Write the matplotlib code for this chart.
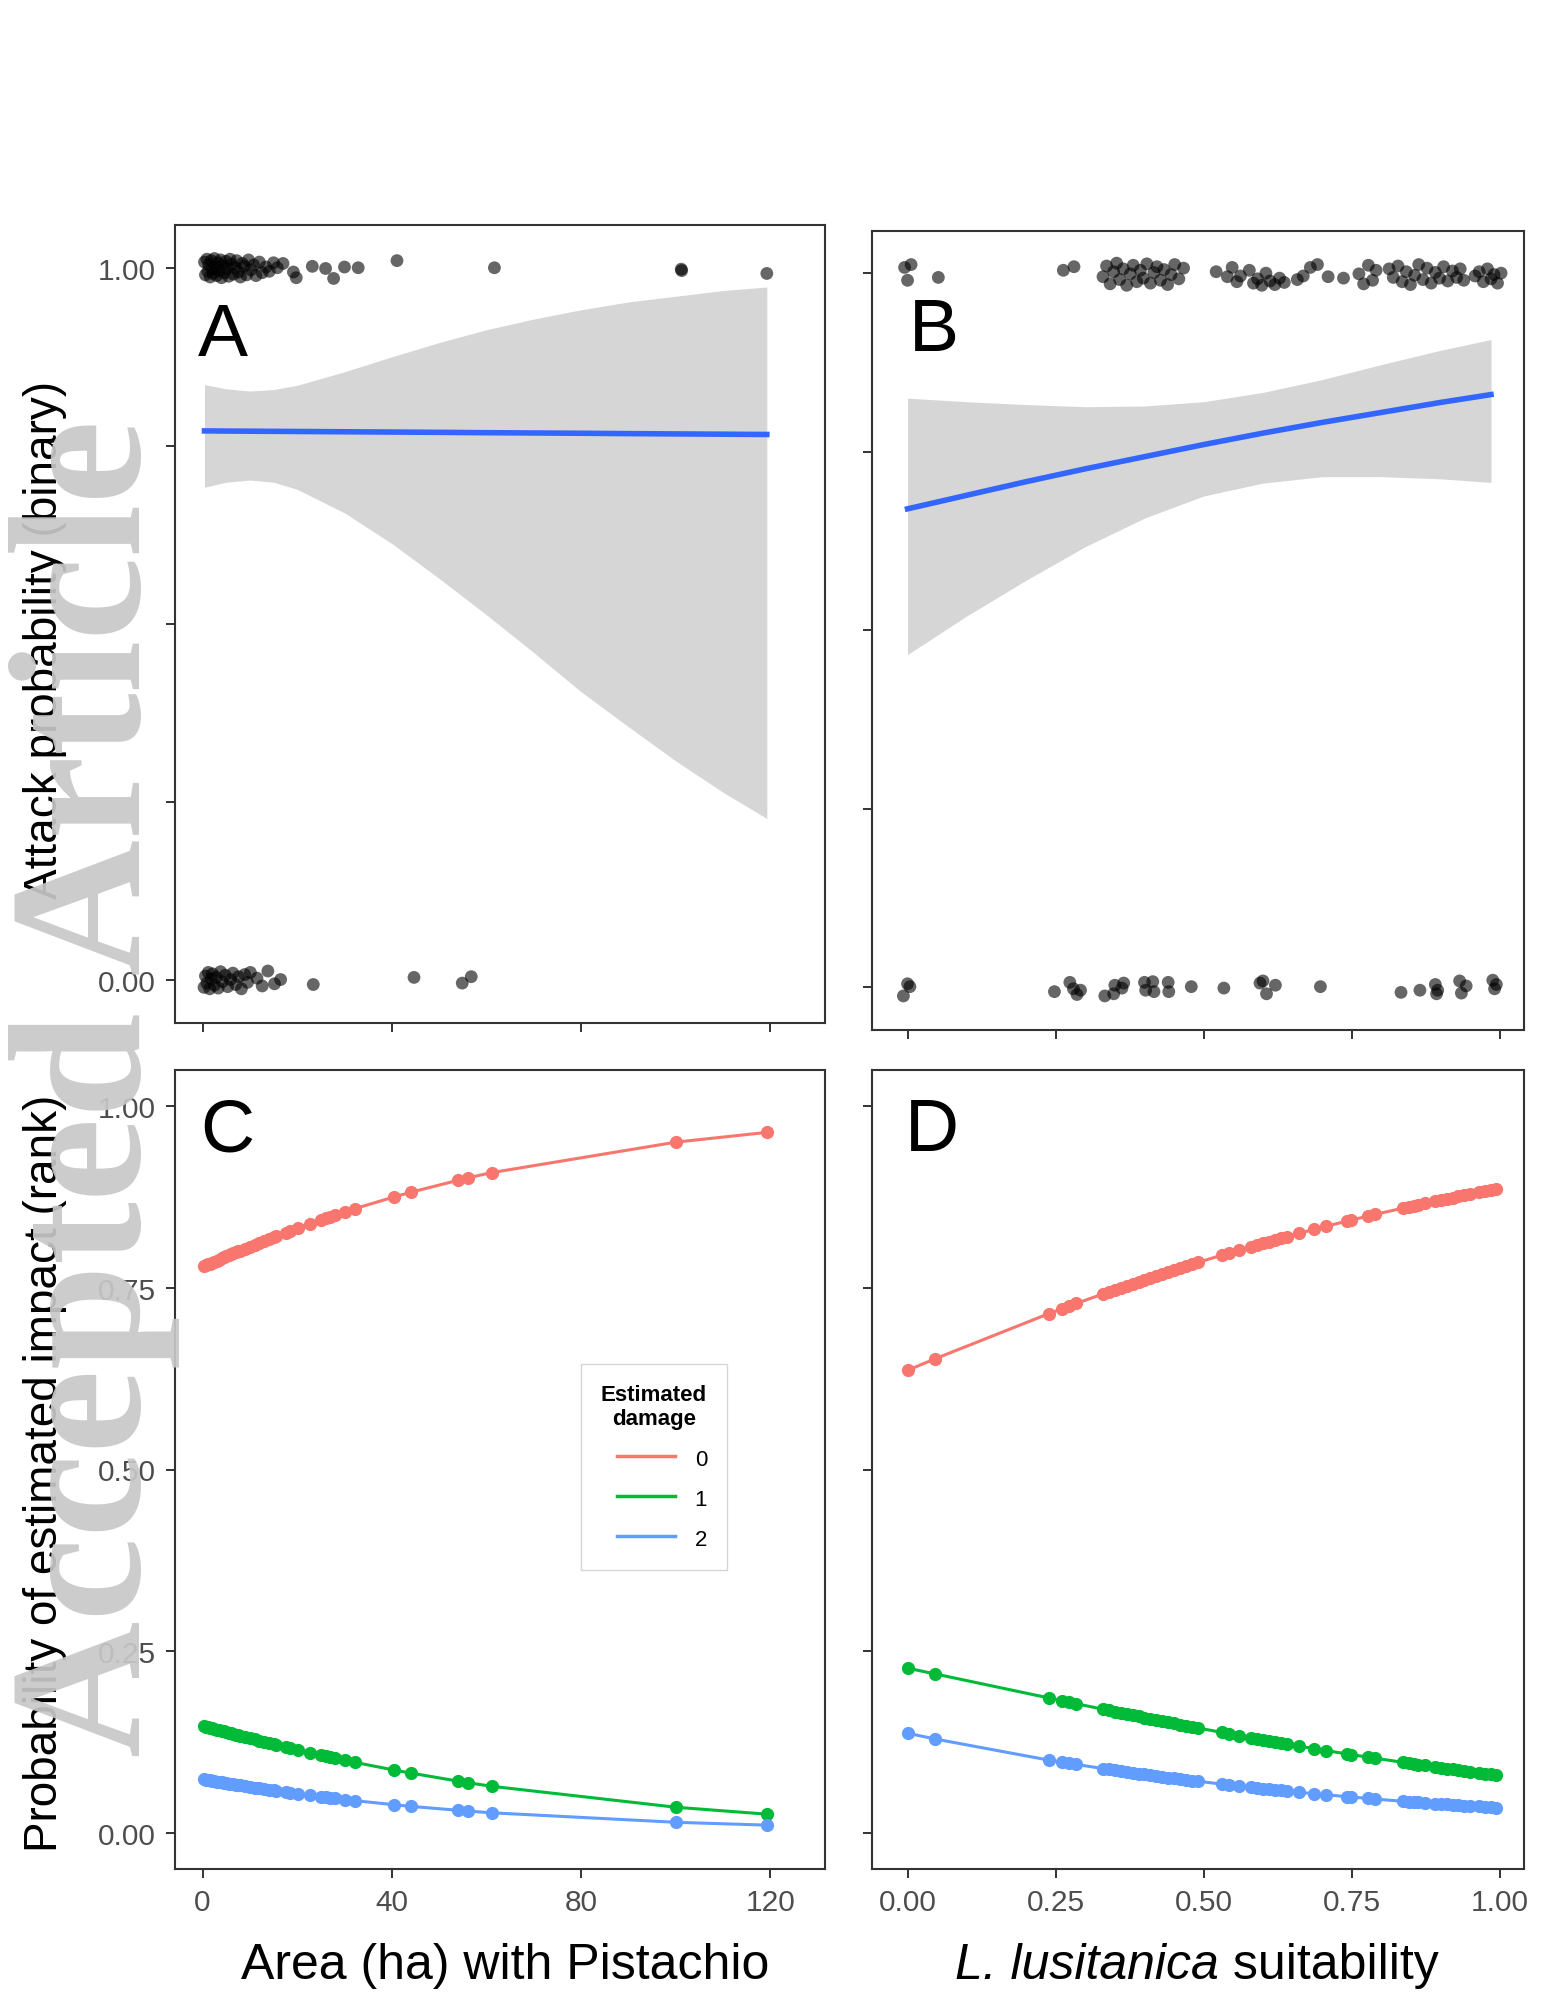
import matplotlib
matplotlib.use("Agg")
import matplotlib.pyplot as plt
from matplotlib.lines import Line2D

plt.rcParams['font.family'] = ['Liberation Sans', 'DejaVu Sans']

# ---------------- Panel A: attack vs area (binary, glm smooth) ----------------
A_top_x = [0.4, 0.6, 0.9, 1.1, 1.3, 1.6, 1.8, 2.0, 2.2, 2.5,
           2.7, 3.0, 3.2, 3.5, 3.8, 4.0, 4.3, 4.6, 4.9, 5.2,
           5.5, 5.8, 6.1, 6.5, 6.9, 7.2, 7.6, 8.0, 8.4, 8.8,
           9.3, 9.7, 10.2, 10.8, 11.3, 12.0, 12.6, 13.4, 14.1, 15.0,
           15.8, 17.0, 19.2, 19.8, 23.2, 26.0, 27.7, 30.0, 32.9, 41.1,
           61.7, 101.2, 101.3, 119.3]
A_top_y = [1.008, 0.990, 1.012, 0.995, 1.004, 0.987, 1.010, 0.998, 0.992, 1.013,
           1.001, 0.989, 1.007, 0.996, 1.011, 0.986, 1.003, 0.993, 1.009, 0.999,
           0.988, 1.012, 1.005, 0.991, 1.000, 1.010, 0.994, 0.987, 1.006, 1.002,
           0.990, 1.011, 0.997, 1.004, 0.989, 1.008, 0.993, 1.001, 0.995, 1.007,
           1.000, 1.006, 0.994, 0.986, 1.002, 0.999, 0.985, 1.001, 1.000, 1.010,
           1.000, 0.998, 0.996, 0.992]
A_bot_x = [0.3, 0.6, 0.9, 1.2, 1.5, 1.8, 2.1, 2.5, 2.9, 3.3,
           3.8, 4.2, 4.8, 5.3, 5.9, 6.4, 7.0, 7.6, 8.2, 8.9,
           9.5, 10.1, 11.5, 12.6, 13.8, 15.2, 16.5, 23.4, 44.7, 54.9,
           56.8]
A_bot_y = [-0.010, 0.006, -0.004, 0.011, -0.012, 0.002, 0.009, -0.007, 0.004, -0.011,
           0.012, -0.002, 0.007, -0.009, 0.001, 0.010, -0.006, 0.005, -0.012, 0.008,
           -0.003, 0.011, 0.003, -0.008, 0.013, -0.005, 0.001, -0.006, 0.004, -0.004,
           0.005]
A_grid = [0.4, 5, 10, 15, 20, 30, 40, 50, 60, 70, 80, 90, 100, 110, 119.3]
A_fit = [0.771, 0.7708, 0.7706, 0.7704, 0.7702, 0.7698, 0.7694, 0.769, 0.7685,
         0.7681, 0.7677, 0.7672, 0.7668, 0.7664, 0.766]
A_hi = [0.836, 0.830, 0.827, 0.829, 0.835, 0.854, 0.875, 0.895, 0.913,
        0.928, 0.941, 0.952, 0.960, 0.968, 0.973]
A_lo = [0.692, 0.699, 0.702, 0.699, 0.689, 0.656, 0.613, 0.564, 0.513,
        0.460, 0.405, 0.356, 0.308, 0.264, 0.227]

# ---------------- Panel B: attack vs suitability ----------------
B_top_x = [-0.005, 0.000, 0.006, 0.052, 0.263, 0.281,
           0.330, 0.336, 0.342, 0.348, 0.353, 0.358, 0.364, 0.370, 0.376, 0.381,
           0.387, 0.393, 0.398, 0.404, 0.410, 0.416, 0.421, 0.427, 0.433, 0.439,
           0.445, 0.451, 0.458, 0.466,
           0.521, 0.540, 0.548, 0.556, 0.562, 0.577, 0.584, 0.591, 0.598, 0.605,
           0.612, 0.620, 0.628, 0.636,
           0.658, 0.668, 0.680, 0.692, 0.710, 0.736, 0.762, 0.770, 0.778, 0.785, 0.791,
           0.813, 0.820, 0.828, 0.835, 0.842, 0.849, 0.856, 0.863, 0.870, 0.877,
           0.884, 0.891, 0.898, 0.905, 0.912, 0.920, 0.927, 0.933, 0.939,
           0.958, 0.965, 0.972, 0.979, 0.985, 0.990, 0.996, 1.002]
B_top_y = [1.008, 0.990, 1.012, 0.994, 1.004, 1.009,
           0.995, 1.010, 0.985, 1.002, 1.014, 0.991, 1.006, 0.983, 0.999, 1.011,
           0.988, 1.004, 0.993, 1.013, 0.986, 1.001, 1.009, 0.990, 1.005, 0.984,
           0.998, 1.012, 0.992, 1.007,
           1.002, 0.995, 1.008, 0.988, 0.996, 1.004, 0.986, 0.992, 0.983, 1.000,
           0.989, 0.984, 0.993, 0.987,
           0.991, 0.996, 1.008, 1.012, 0.995, 0.993, 0.999, 0.985, 1.011, 0.990, 1.004,
           1.006, 0.994, 1.010, 0.988, 1.002, 0.984, 0.997, 1.012, 0.991, 1.007,
           0.986, 1.001, 0.993, 1.009, 0.989, 1.003, 0.994, 1.006, 0.990,
           0.996, 1.002, 0.988, 1.006, 0.992, 0.998, 0.986, 1.000]
B_bot_x = [-0.007, 0.000, 0.004, 0.248, 0.274, 0.280, 0.286, 0.292, 0.333, 0.348,
           0.350, 0.362, 0.365, 0.400, 0.402, 0.414, 0.416, 0.440, 0.441, 0.479,
           0.534, 0.595, 0.600, 0.606, 0.621, 0.697, 0.833, 0.865, 0.891, 0.893,
           0.895, 0.932, 0.935, 0.943, 0.988, 0.991, 0.994]
B_bot_y = [-0.012, 0.005, 0.001, -0.006, 0.007, -0.002, -0.010, -0.004, -0.012, -0.009,
           0.003, -0.001, 0.006, 0.007, -0.004, 0.008, -0.006, 0.007, -0.006, 0.001,
           -0.001, 0.006, 0.009, -0.009, 0.003, 0.001, -0.007, -0.004, 0.004, -0.009,
           -0.004, 0.009, -0.008, 0.002, 0.010, -0.002, 0.004]
B_grid = [0.0, 0.1, 0.2, 0.3, 0.4, 0.5, 0.6, 0.7, 0.8, 0.9, 0.985]
B_fit = [0.670, 0.689, 0.708, 0.726, 0.743, 0.760, 0.776, 0.791, 0.805, 0.819, 0.830]
B_hi = [0.825, 0.820, 0.816, 0.813, 0.814, 0.820, 0.833, 0.851, 0.872, 0.892, 0.907]
B_lo = [0.466, 0.520, 0.570, 0.617, 0.657, 0.688, 0.706, 0.715, 0.715, 0.712, 0.707]

# ---------------- Panel C: ordinal model vs area ----------------
C_x = [0.4, 0.8, 1.2, 1.6, 2.0, 2.5, 3.0, 3.5, 4.0, 4.5, 5.0, 5.5, 6.0, 6.5,
       7.0, 7.5, 8.0, 9.0, 10.0, 11.0, 12.0, 13.0, 14.0, 15.0, 15.5,
       17.6, 18.5, 20.2, 22.8, 25.0, 26.0, 27.0, 28.0, 30.1, 32.3,
       40.5, 44.1, 53.9, 56.1, 61.1, 100.1, 119.3]
C_p0 = [0.7802, 0.7813, 0.7825, 0.7836, 0.7848, 0.7862, 0.7876, 0.7891, 0.7905, 0.7919,
        0.7933, 0.7947, 0.7961, 0.7975, 0.7989, 0.8002, 0.8015, 0.8042, 0.8069, 0.8095,
        0.8121, 0.8147, 0.8173, 0.8198, 0.8210, 0.8262, 0.8284, 0.8325, 0.8385, 0.8436,
        0.8458, 0.8480, 0.8502, 0.8547, 0.8593, 0.8753, 0.8818, 0.8980, 0.9015, 0.9087,
        0.9507, 0.9641]
C_p1 = [0.1465, 0.1458, 0.1451, 0.1444, 0.1437, 0.1428, 0.1420, 0.1411, 0.1403, 0.1394,
        0.1385, 0.1376, 0.1368, 0.1359, 0.1351, 0.1343, 0.1335, 0.1318, 0.1301, 0.1285,
        0.1269, 0.1252, 0.1236, 0.1221, 0.1213, 0.1180, 0.1166, 0.1140, 0.1102, 0.1069,
        0.1055, 0.1041, 0.1026, 0.0998, 0.0967, 0.0862, 0.0820, 0.0711, 0.0688, 0.0639,
        0.0350, 0.0255]
C_p2 = [0.0733, 0.0729, 0.0724, 0.0720, 0.0715, 0.0710, 0.0704, 0.0698, 0.0692, 0.0687,
        0.0682, 0.0677, 0.0671, 0.0666, 0.0660, 0.0655, 0.0650, 0.0640, 0.0630, 0.0620,
        0.0610, 0.0601, 0.0591, 0.0581, 0.0577, 0.0558, 0.0550, 0.0535, 0.0513, 0.0495,
        0.0487, 0.0479, 0.0472, 0.0455, 0.0440, 0.0385, 0.0362, 0.0309, 0.0297, 0.0274,
        0.0143, 0.0104]

# ---------------- Panel D: ordinal model vs suitability ----------------
D_x = [0.000, 0.047, 0.238, 0.261, 0.272, 0.285, 0.33, 0.34, 0.35, 0.36, 0.37, 0.38,
       0.39, 0.40, 0.41, 0.42, 0.43, 0.44, 0.45, 0.46, 0.47, 0.48, 0.49, 0.531,
       0.542, 0.56, 0.58, 0.59, 0.60, 0.61, 0.62, 0.63, 0.64, 0.66, 0.687, 0.706,
       0.742, 0.749, 0.778, 0.789, 0.837, 0.846, 0.855, 0.862, 0.873, 0.891, 0.90,
       0.91, 0.92, 0.93, 0.94, 0.95, 0.964, 0.975, 0.985, 0.993]
D_p0 = [0.6365, 0.6526, 0.7144, 0.7214, 0.7247, 0.7286, 0.7417, 0.7446, 0.7475, 0.7503,
        0.7531, 0.7558, 0.7586, 0.7613, 0.7640, 0.7667, 0.7694, 0.7721, 0.7747, 0.7773,
        0.7799, 0.7825, 0.7850, 0.7952, 0.7978, 0.8022, 0.8069, 0.8093, 0.8116, 0.8138,
        0.8161, 0.8183, 0.8206, 0.8250, 0.8306, 0.8347, 0.8420, 0.8434, 0.8490, 0.8511,
        0.8600, 0.8616, 0.8633, 0.8645, 0.8663, 0.8695, 0.8710, 0.8727, 0.8744, 0.8760,
        0.8776, 0.8792, 0.8814, 0.8831, 0.8847, 0.8859]
D_p1 = [0.2265, 0.2185, 0.1856, 0.1816, 0.1798, 0.1775, 0.1700, 0.1683, 0.1666, 0.1650,
        0.1633, 0.1618, 0.1601, 0.1585, 0.1569, 0.1553, 0.1537, 0.1520, 0.1505, 0.1489,
        0.1473, 0.1457, 0.1442, 0.1380, 0.1364, 0.1336, 0.1307, 0.1292, 0.1277, 0.1264,
        0.1249, 0.1236, 0.1221, 0.1193, 0.1157, 0.1131, 0.1084, 0.1075, 0.1039, 0.1026,
        0.0968, 0.0957, 0.0946, 0.0937, 0.0926, 0.0905, 0.0894, 0.0883, 0.0871, 0.0861,
        0.0851, 0.0840, 0.0825, 0.0814, 0.0804, 0.0795]
D_p2 = [0.1370, 0.1289, 0.1000, 0.0970, 0.0955, 0.0939, 0.0883, 0.0871, 0.0859, 0.0847,
        0.0836, 0.0824, 0.0813, 0.0802, 0.0791, 0.0780, 0.0769, 0.0759, 0.0748, 0.0738,
        0.0728, 0.0718, 0.0708, 0.0668, 0.0658, 0.0642, 0.0624, 0.0615, 0.0607, 0.0598,
        0.0590, 0.0581, 0.0573, 0.0557, 0.0537, 0.0522, 0.0496, 0.0491, 0.0471, 0.0463,
        0.0432, 0.0427, 0.0421, 0.0418, 0.0411, 0.0400, 0.0396, 0.0390, 0.0385, 0.0379,
        0.0373, 0.0368, 0.0361, 0.0355, 0.0349, 0.0346]

damage_levels = ['0', '1', '2']
damage_colors = ['#F8766D', '#00BA38', '#619CFF']

prob_ticks = [0, 0.25, 0.5, 0.75, 1.0]
prob_labels = ['0.00', '0.25', '0.50', '0.75', '1.00']
area_ticks = [0, 40, 80, 120]
suit_ticks = [0, 0.25, 0.5, 0.75, 1.0]
suit_labels = ['0.00', '0.25', '0.50', '0.75', '1.00']

# ---------------- figure ----------------
W, H = 1543, 1999
fig = plt.figure(figsize=(W / 100, H / 100), dpi=100)
fig.patch.set_facecolor('white')


def rect(l, t, r, b):
    return [l / W, 1 - b / H, (r - l) / W, (b - t) / H]


axA = fig.add_axes(rect(174.7, 226, 825, 1024))
axB = fig.add_axes(rect(872, 232, 1523.6, 1030.5))
axC = fig.add_axes(rect(174.7, 1071, 825, 1870))
axD = fig.add_axes(rect(872, 1071, 1523.6, 1870))


def style(ax):
    for s in ax.spines.values():
        s.set_color('#333333')
        s.set_linewidth(1.5)
    ax.tick_params(direction='out', length=6.5, width=1.4, color='#333333',
                   labelcolor='#4d4d4d', labelsize=21.5, pad=7)


smooth_col = '#3366FF'
band_col = '#D6D6D6'
area_lim = (-5.9, 131.6)
suit_lim = (-0.06, 1.04)

# Panel A
axA.fill_between(A_grid, A_lo, A_hi, color=band_col, lw=0, zorder=1)
axA.plot(A_grid, A_fit, color=smooth_col, lw=4, zorder=2)
axA.scatter(A_top_x + A_bot_x, A_top_y + A_bot_y, s=85, color='black', alpha=0.6,
            edgecolors='none', zorder=3)
axA.set_xlim(*area_lim)
axA.set_ylim(-0.06, 1.06)
axA.set_xticks(area_ticks)
axA.set_xticklabels([])
axA.set_yticks(prob_ticks)
axA.set_yticklabels(['0.00', '', '', '', '1.00'])
style(axA)

# Panel B
axB.fill_between(B_grid, B_lo, B_hi, color=band_col, lw=0, zorder=1)
axB.plot(B_grid, B_fit, color=smooth_col, lw=4, zorder=2)
axB.scatter(B_top_x + B_bot_x, B_top_y + B_bot_y, s=85, color='black', alpha=0.6,
            edgecolors='none', zorder=3)
axB.set_xlim(*suit_lim)
axB.set_ylim(-0.059, 1.059)
axB.set_xticks(suit_ticks)
axB.set_xticklabels([])
axB.set_yticks(prob_ticks)
axB.set_yticklabels([])
style(axB)

# Panel C
for vals, col in zip([C_p0, C_p1, C_p2], damage_colors):
    axC.plot(C_x, vals, color=col, lw=2.2, marker='o', ms=9.5, mec='none', zorder=2)
axC.set_xlim(*area_lim)
axC.set_ylim(-0.05, 1.05)
axC.set_xticks(area_ticks)
axC.set_xticklabels([str(t) for t in area_ticks])
axC.set_yticks(prob_ticks)
axC.set_yticklabels(prob_labels)
style(axC)

# Panel D
for vals, col in zip([D_p0, D_p1, D_p2], damage_colors):
    axD.plot(D_x, vals, color=col, lw=2.2, marker='o', ms=9.5, mec='none', zorder=2)
axD.set_xlim(*suit_lim)
axD.set_ylim(-0.05, 1.05)
axD.set_xticks(suit_ticks)
axD.set_xticklabels(suit_labels)
axD.set_yticks(prob_ticks)
axD.set_yticklabels([])
style(axD)

# panel letters
axA.text(0.036, 0.861, 'A', transform=axA.transAxes, fontsize=54, ha='left', va='center')
axB.text(0.057, 0.876, 'B', transform=axB.transAxes, fontsize=54, ha='left', va='center')
axC.text(0.039, 0.924, 'C', transform=axC.transAxes, fontsize=54, ha='left', va='center')
axD.text(0.051, 0.924, 'D', transform=axD.transAxes, fontsize=54, ha='left', va='center')

# legend
handles = [Line2D([], [], color=c, lw=2.5) for c in damage_colors]
leg = fig.legend(handles, damage_levels, title='Estimated\ndamage',
                 loc='upper left', bbox_to_anchor=(581 / W, 1 - 1365 / H),
                 bbox_transform=fig.transFigure, fontsize=16, title_fontsize=16,
                 frameon=True, fancybox=False, edgecolor='#cccccc',
                 handlelength=2.6, handletextpad=0.9, labelspacing=0.8,
                 handleheight=1.0, borderpad=0.9, borderaxespad=0,
                 alignment='right')
leg.get_title().set_fontweight('bold')
leg.get_title().set_multialignment('center')
leg.get_frame().set_linewidth(1.0)

# axis titles
fig.text(45 / W, 1 - 640 / H, 'Attack probability (binary)', rotation=90,
         fontsize=33, ha='center', va='center')
fig.text(45 / W, 1 - 1473 / H, 'Probability of estimated impact (rank)', rotation=90,
         fontsize=33, ha='center', va='center')
fig.text(505 / W, 1 - 1966 / H, 'Area (ha) with Pistachio', fontsize=36,
         ha='center', va='center')
t1 = fig.text(0, 1 - 1966 / H, 'L. lusitanica', fontsize=36, style='italic',
              ha='left', va='center')
t2 = fig.text(0, 1 - 1966 / H, ' suitability', fontsize=36, ha='left', va='center')
fig.canvas.draw()
r = fig.canvas.get_renderer()
w1 = t1.get_window_extent(r).width
w2 = t2.get_window_extent(r).width
x0 = 1197 - (w1 + w2) / 2
t1.set_x(x0 / W)
t2.set_x((x0 + w1) / W)

# watermark
fig.text(140 / W, 1 - 1088 / H, 'Accepted Article', rotation=90, rotation_mode='anchor',
         ha='center', va='baseline', fontsize=136, family='Liberation Serif',
         fontweight='bold', color='#c8c8c8', alpha=0.92, zorder=10)

fig.savefig('out.png', dpi=100, facecolor='white')
